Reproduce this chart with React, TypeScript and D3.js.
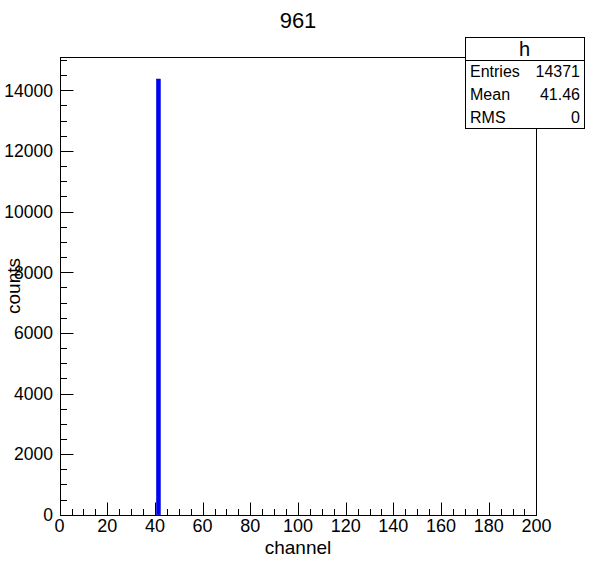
import React from "react";
import * as d3 from "d3";

// histogram "h", one filled bin
const binLow = [40.6];
const binHigh = [42.3];
const binCounts = [14371];

const xTickLabels = [0, 20, 40, 60, 80, 100, 120, 140, 160, 180, 200];
const yTickLabels = [0, 2000, 4000, 6000, 8000, 10000, 12000, 14000];

const statLabels = ["Entries", "Mean", "RMS"];
const statValues = ["14371", "41.46", "0"];

const W = 596;
const H = 572;
const FONT = "'Liberation Sans', Arial, Helvetica, sans-serif";

const App = () => {
  const left = 59.6;
  const right = 536.4;
  const top = 57.2;
  const bottom = 514.8;

  const x = d3.scaleLinear().domain([0, 200]).range([left, right]);
  const y = d3.scaleLinear().domain([0, 15090]).range([bottom, top]);

  const px = (v: number) => Math.round(v) + 0.5;

  const xMinor = d3.range(0, 201, 5);
  const yMinor = d3.range(0, 15001, 500);

  // stats box (ROOT default position)
  const sx1 = 465;
  const sx2 = 584;
  const sy1 = 37.2;
  const sy2 = 128.7;
  const rowH = (sy2 - sy1) / (statLabels.length + 1);

  return (
    <svg
      width={W}
      height={H}
      style={{ position: "absolute", left: 0, top: 0, background: "#fff" }}
      fontFamily={FONT}
    >
      <rect width={W} height={H} fill="#fff" />

      {/* title */}
      <text x={W / 2} y={28} textAnchor="middle" fontSize={22} fill="#000">
        961
      </text>

      {/* bars */}
      {binCounts.map((c, i) => (
        <rect
          key={i}
          x={x(binLow[i])}
          y={y(c)}
          width={x(binHigh[i]) - x(binLow[i])}
          height={bottom - y(c)}
          fill="#0000ff"
          stroke="#0000cc"
          strokeWidth={0.5}
        />
      ))}

      {/* frame */}
      <rect
        x={px(left)}
        y={px(top)}
        width={Math.round(right) - Math.round(left)}
        height={Math.round(bottom) - Math.round(top)}
        fill="none"
        stroke="#000"
        strokeWidth={1}
      />

      {/* x axis ticks */}
      {xMinor.map((v) => {
        const major = v % 20 === 0;
        return (
          <line
            key={"xt" + v}
            x1={px(x(v))}
            x2={px(x(v))}
            y1={px(bottom)}
            y2={px(bottom) - (major ? 13 : 6.5)}
            stroke="#000"
          />
        );
      })}
      {xTickLabels.map((v) => (
        <text
          key={"xl" + v}
          x={x(v)}
          y={532}
          textAnchor="middle"
          fontSize={18}
          fill="#000"
        >
          {v}
        </text>
      ))}
      <text x={(left + right) / 2} y={554} textAnchor="middle" fontSize={19}>
        channel
      </text>

      {/* y axis ticks */}
      {yMinor.map((v) => {
        const major = v % 2000 === 0;
        return (
          <line
            key={"yt" + v}
            x1={px(left)}
            x2={px(left) + (major ? 13 : 6.5)}
            y1={px(y(v))}
            y2={px(y(v))}
            stroke="#000"
          />
        );
      })}
      {yTickLabels.map((v) => (
        <text
          key={"yl" + v}
          x={53}
          y={y(v)}
          dy="0.36em"
          textAnchor="end"
          fontSize={17.5}
          fill="#000"
        >
          {v}
        </text>
      ))}
      <text
        transform={`translate(20, ${(top + bottom) / 2}) rotate(-90)`}
        textAnchor="middle"
        fontSize={19}
      >
        counts
      </text>

      {/* stats box */}
      <rect
        x={px(sx1)}
        y={px(sy1)}
        width={Math.round(sx2 - sx1)}
        height={Math.round(sy2 - sy1)}
        fill="#fff"
        stroke="#000"
      />
      <line
        x1={px(sx1)}
        x2={px(sx2)}
        y1={px(sy1 + rowH)}
        y2={px(sy1 + rowH)}
        stroke="#000"
      />
      <text
        x={(sx1 + sx2) / 2}
        y={sy1 + rowH / 2}
        dy="0.36em"
        textAnchor="middle"
        fontSize={20}
      >
        h
      </text>
      {statLabels.map((s, i) => (
        <g key={s}>
          <text
            x={sx1 + 5}
            y={sy1 + rowH * (i + 1.5)}
            dy="0.36em"
            fontSize={16}
          >
            {s}
          </text>
          <text
            x={sx2 - 4}
            y={sy1 + rowH * (i + 1.5)}
            dy="0.36em"
            textAnchor="end"
            fontSize={16}
          >
            {statValues[i]}
          </text>
        </g>
      ))}
    </svg>
  );
};

export default App;
